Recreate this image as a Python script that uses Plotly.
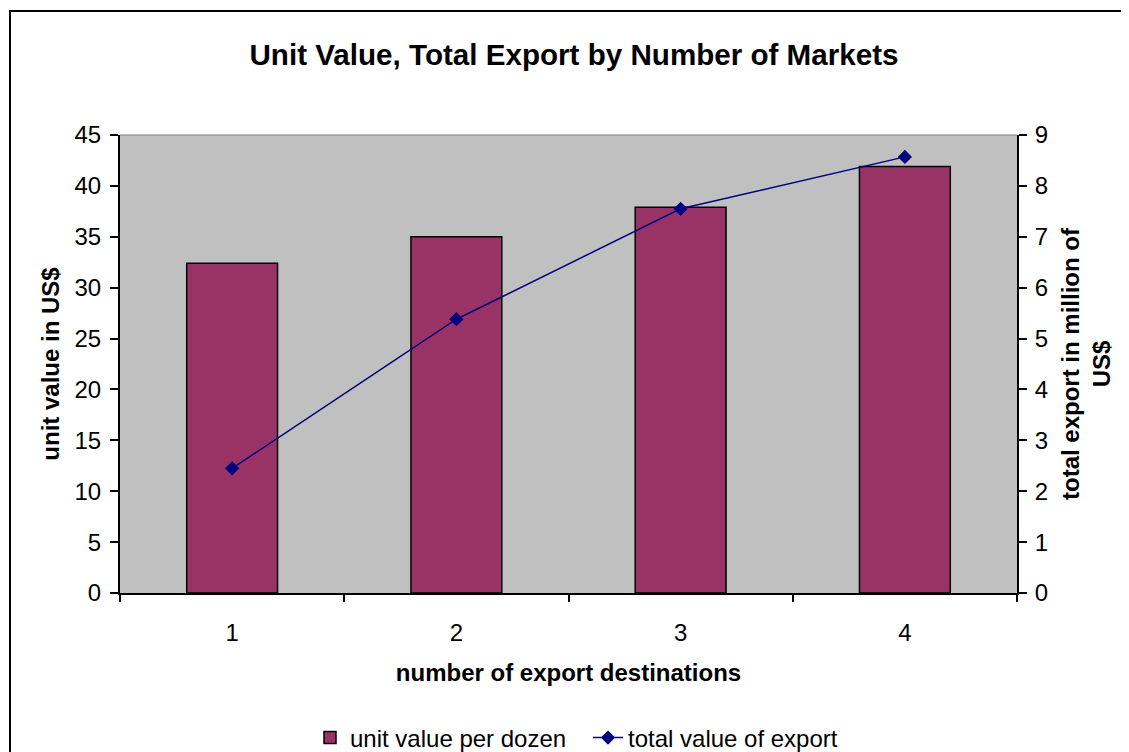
import plotly.graph_objects as go

categories = ["1", "2", "3", "4"]
unit_value = [32.4, 35.0, 37.9, 41.9]
total_export = [2.45, 5.38, 7.55, 8.57]
left_ticks = [0, 5, 10, 15, 20, 25, 30, 35, 40, 45]
right_ticks = [0, 1, 2, 3, 4, 5, 6, 7, 8, 9]

FONT = "Liberation Sans, Arial, sans-serif"

# page has an 8px body margin: figure coords = window coords - 8
W, H = 1121, 744
L, T, PW, PH = 112, 127, 897, 458
R = W - L - PW
B = H - T - PH
BOT = T + PH  # plot bottom in figure coords

fig = go.Figure()
fig.add_trace(go.Bar(
    x=categories, y=unit_value, name="unit value per dozen",
    marker=dict(color="#993366", line=dict(color="black", width=1.5)),
    yaxis="y",
))
fig.add_trace(go.Scatter(
    x=categories, y=total_export, name="total value of export",
    mode="lines+markers",
    line=dict(color="#000080", width=1.5),
    marker=dict(symbol="diamond", size=11, color="#000080"),
    yaxis="y2",
))

fig.update_layout(
    width=W, height=H,
    margin=dict(l=L, r=R, t=T, b=B),
    paper_bgcolor="white",
    plot_bgcolor="#C0C0C0",
    font=dict(family=FONT, size=24, color="black"),
    title=dict(text="<b>Unit Value, Total Export by Number of Markets</b>",
               x=566/W, xanchor="center", y=1-47/H, yanchor="middle",
               font=dict(size=29.6)),
    bargap=0.595,
    showlegend=True,
    legend=dict(orientation="h", x=302/W, xanchor="left", xref="container",
                yref="container", y=1-730/H, yanchor="middle",
                entrywidth=233, entrywidthmode="pixels",
                font=dict(size=24), bgcolor="rgba(0,0,0,0)"),
    xaxis=dict(type="category", tickson="boundaries", ticks="outside",
               ticklen=7, tickcolor="black", tickwidth=1.5,
               ticklabelstandoff=17,
               showline=True, linecolor="black", linewidth=2,
               showgrid=False, zeroline=False,
               title=dict(text="<b>number of export destinations</b>",
                          standoff=19, font=dict(size=24))),
    yaxis=dict(range=[0, 45], tickvals=left_ticks, ticks="outside",
               ticklen=8, tickcolor="black", tickwidth=1.5,
               ticklabelstandoff=4,
               showline=True, linecolor="black", linewidth=2,
               showgrid=False, zeroline=False,
               title=dict(text="<b>unit value in US$</b>", standoff=8,
                          font=dict(size=24))),
    yaxis2=dict(range=[0, 9], tickvals=right_ticks, overlaying="y",
                side="right", ticks="outside", ticklen=8, tickcolor="black",
                tickwidth=1.5, ticklabelstandoff=3,
                showline=True, linecolor="black", linewidth=2,
                showgrid=False, zeroline=False,
                title=dict(text="<b>total export in million of<br>US$</b>",
                           standoff=15, font=dict(size=24))),
    yaxis3=dict(range=[0, 45], tickvals=left_ticks, overlaying="y",
                side="left", ticks="inside", ticklen=7, tickcolor="black",
                tickwidth=1.5, showticklabels=False, showgrid=False,
                zeroline=False, showline=False),
    yaxis4=dict(range=[0, 9], tickvals=right_ticks, overlaying="y",
                side="right", ticks="inside", ticklen=7, tickcolor="black",
                tickwidth=1.5, showticklabels=False, showgrid=False,
                zeroline=False, showline=False),
    shapes=[
        dict(type="rect", xref="paper", yref="paper",
             x0=(2-L)/PW, x1=(W+20-L)/PW,
             y0=(BOT-H-20)/PH, y1=(BOT-3)/PH,
             line=dict(color="black", width=2), fillcolor="rgba(0,0,0,0)",
             layer="below"),
        dict(type="line", xref="paper", yref="paper", x0=0, x1=1, y0=1, y1=1,
             line=dict(color="#808080", width=1)),
    ],
)

fig.write_html("out.html")
